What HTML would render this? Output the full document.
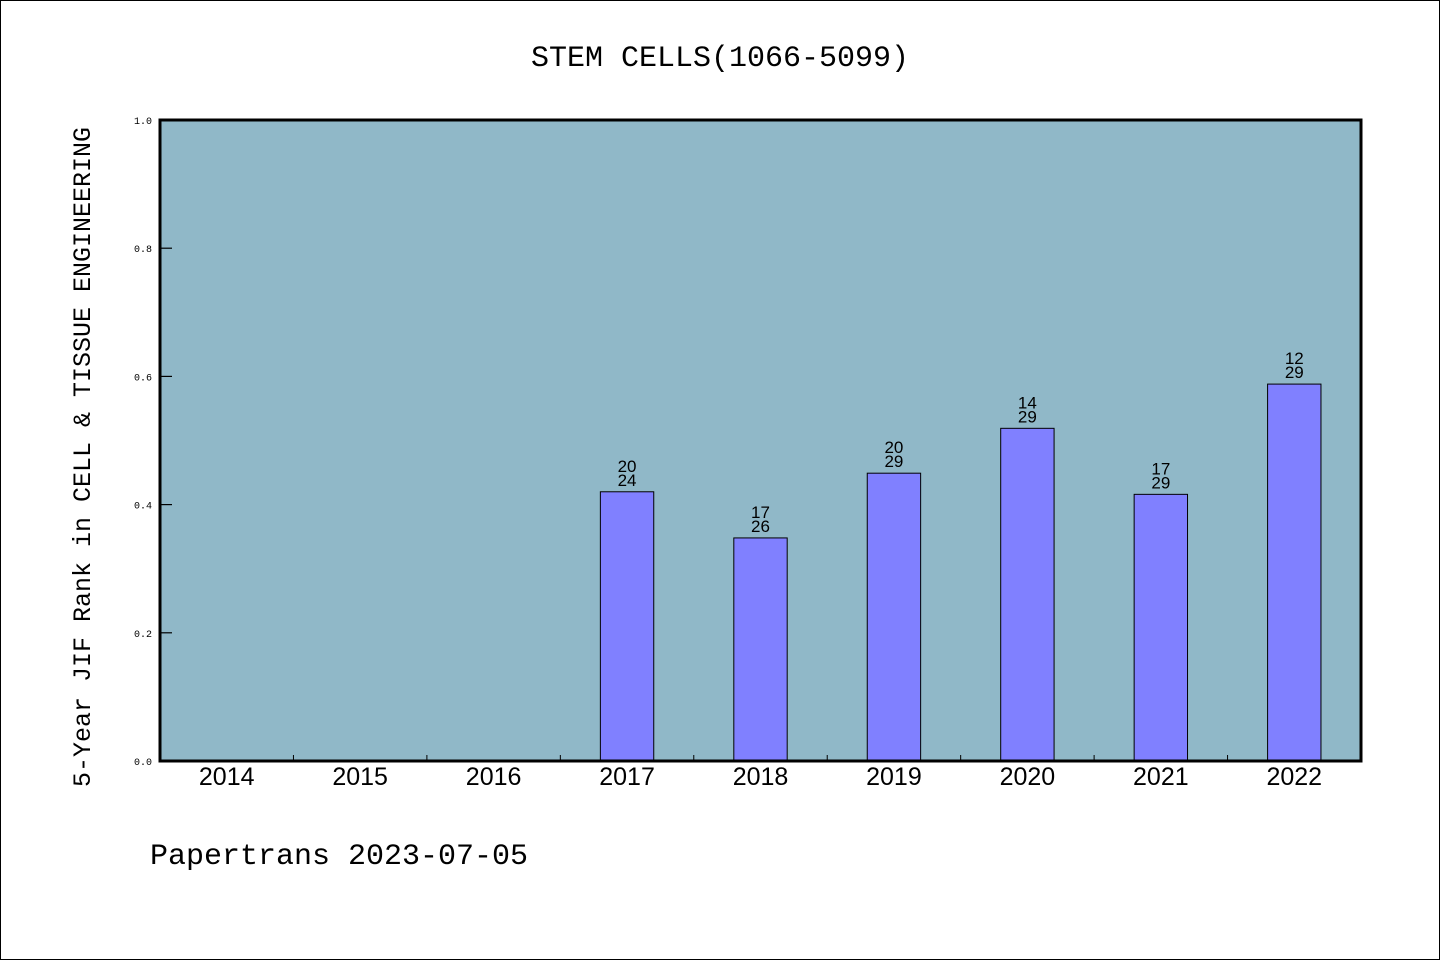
<!DOCTYPE html>
<html><head><meta charset="utf-8"><style>
body{margin:0;background:#fff}
svg{display:block;font-family:"Liberation Mono","DejaVu Sans Mono",monospace}
</style></head><body>
<svg id="chart" width="1440" height="960" viewBox="0 0 1440 960" xmlns="http://www.w3.org/2000/svg">
<rect x="0.5" y="0.5" width="1439" height="959" fill="#fff" stroke="#000"/>
<text x="720" y="66" text-anchor="middle" font-size="30">STEM CELLS(1066-5099)</text>
<rect x="160" y="120" width="1201" height="641" fill="#90b8c8"/>
<g id="ticks"></g>
<g id="bars"></g>
<rect x="160" y="120" width="1201" height="641" fill="none" stroke="#000" stroke-width="3"/>
<text transform="translate(90,457) rotate(-90)" text-anchor="middle" font-size="25">5-Year JIF Rank in CELL &amp; TISSUE ENGINEERING</text>
<text x="150" y="864" font-size="30">Papertrans 2023-07-05</text>
</svg>
<script>
const categories=["2014","2015","2016","2017","2018","2019","2020","2021","2022"];
const values=[null,null,null,0.42,0.348,0.449,0.519,0.416,0.588];
const rankTop=[null,null,null,"20","17","20","14","17","12"];
const rankBottom=[null,null,null,"24","26","29","29","29","29"];
const yTicks=[0,0.2,0.4,0.6,0.8,1.0];
const NS="http://www.w3.org/2000/svg";
const X0=160,X1=1361,Y0=761,Y1=120,step=(X1-X0)/categories.length;
const xc=i=>X0+step*(i+0.5);
const y=v=>Y0-(v)*(Y0-Y1);
function mk(t,a,p){const e=document.createElementNS(NS,t);for(const k in a)e.setAttribute(k,a[k]);p.appendChild(e);return e;}
const tg=document.getElementById('ticks'),bg=document.getElementById('bars');
yTicks.forEach(v=>{
 const l=mk('line',{x1:X0,x2:X0+12,y1:y(v),y2:y(v),stroke:'#000','stroke-width':1.2},tg);
 
 
 const t=mk('text',{x:152,y:y(v)+4,'text-anchor':'end','font-size':10},tg);
 t.textContent=v.toFixed(1);
 
 
});
categories.forEach((c,i)=>{
 if(i>0){const l=mk('line',{x1:X0+step*i,x2:X0+step*i,y1:Y0,y2:Y0-6,stroke:'#000','stroke-width':1},tg);
 
 }
 const t=mk('text',{x:xc(i),y:785,'text-anchor':'middle','font-size':25,'font-family':'Liberation Sans, sans-serif'},tg);
 t.textContent=c;
 
 
 if(values[i]!=null){
  const w=step*0.4;
  const r=mk('rect',{x:xc(i)-w/2,y:y(values[i]),width:w,height:Y0-y(values[i]),fill:'#8080ff',stroke:'#000','stroke-width':1},bg);
  
  
  const a=mk('text',{x:xc(i),y:y(values[i])-20,'text-anchor':'middle','font-size':17,'font-family':'Liberation Sans, sans-serif'},bg);
  a.textContent=rankTop[i];
  
  
  const b=mk('text',{x:xc(i),y:y(values[i])-6,'text-anchor':'middle','font-size':17,'font-family':'Liberation Sans, sans-serif'},bg);
  b.textContent=rankBottom[i];
  
  
 }
});
</script>
</body></html>
